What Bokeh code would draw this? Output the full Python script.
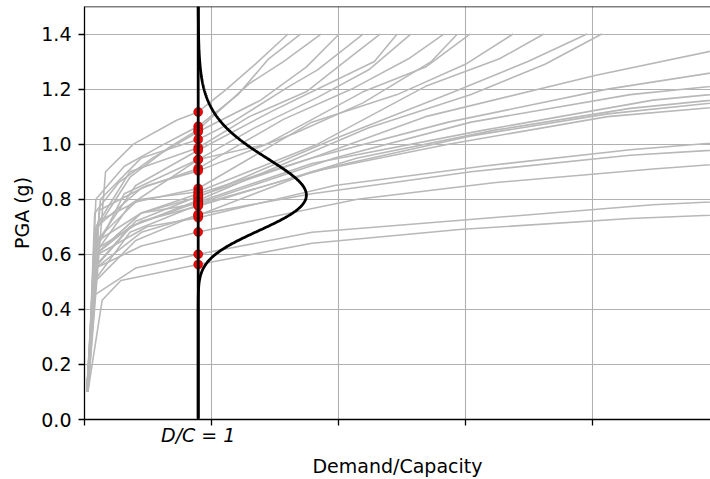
import numpy as np
from bokeh.plotting import figure
from bokeh.models import FixedTicker, LinearAxis, Span, Title
from bokeh.embed import file_html
from bokeh.resources import INLINE

# Incremental dynamic analysis (IDA) curves: demand/capacity ratio (x) vs PGA in g (y)
IDA_DC = [
    [0.03, 0.185, 0.43, 0.81, 1.0, 1.25, 1.50, 1.79],
    [0.03, 0.10, 0.35, 0.70, 1.0, 1.35, 1.62, 1.90],
    [0.02, 0.12, 0.40, 0.75, 1.0, 1.45, 1.75, 2.08],
    [0.03, 0.09, 0.30, 0.60, 1.0, 1.55, 1.95, 2.24],
    [0.02, 0.14, 0.50, 1.0, 1.30, 1.80, 2.05, 2.45],
    [0.03, 0.10, 0.40, 1.0, 1.45, 1.95, 2.35, 2.60],
    [0.02, 0.12, 0.45, 1.0, 1.65, 2.15, 2.55, 2.75],
    [0.03, 0.08, 0.35, 1.0, 1.50, 2.05, 2.50, 2.87],
    [0.02, 0.11, 0.50, 1.0, 1.75, 2.35, 2.85, 3.16],
    [0.03, 0.13, 0.55, 1.0, 1.85, 2.45, 3.05, 3.28],
    [0.02, 0.09, 0.40, 1.0, 1.60, 2.45, 3.00, 3.39],
    [0.03, 0.10, 0.45, 1.0, 2.00, 2.75, 3.35, 3.77],
    [0.02, 0.12, 0.50, 1.0, 2.05, 3.00, 3.65, 4.04],
    [0.03, 0.10, 0.50, 1.0, 2.20, 3.25, 3.90, 4.42],
    [0.02, 0.08, 0.40, 1.0, 2.50, 3.40, 4.05, 4.55],
    [0.02, 0.10, 0.50, 1.0, 2.00, 3.00, 4.50, 6.00],
    [0.03, 0.09, 0.45, 1.0, 2.00, 3.20, 4.60, 6.00],
    [0.02, 0.12, 0.50, 1.0, 2.20, 3.40, 4.80, 6.00],
    [0.03, 0.10, 0.40, 1.0, 2.00, 3.50, 5.00, 6.00],
    [0.02, 0.11, 0.50, 1.0, 2.40, 3.60, 4.80, 6.00],
    [0.03, 0.08, 0.40, 1.0, 2.20, 3.40, 4.60, 6.00],
    [0.02, 0.10, 0.50, 1.0, 2.00, 3.20, 4.60, 6.00],
    [0.03, 0.12, 0.55, 1.0, 2.20, 3.50, 4.80, 6.00],
    [0.02, 0.09, 0.45, 1.0, 2.00, 3.40, 4.80, 6.00],
    [0.03, 0.10, 0.50, 1.0, 2.40, 3.60, 5.00, 6.00],
    [0.02, 0.08, 0.45, 1.0, 2.00, 3.50, 5.00, 6.00],
    [0.03, 0.155, 0.32, 1.0, 2.00, 3.30, 4.80, 6.00],
]
IDA_PGA = [
    [0.1, 0.90, 1.00, 1.087, 1.117, 1.20, 1.29, 1.4],
    [0.1, 0.80, 0.92, 1.00, 1.065, 1.18, 1.31, 1.4],
    [0.1, 0.70, 0.88, 0.99, 1.053, 1.22, 1.30, 1.4],
    [0.1, 0.75, 0.86, 0.95, 1.045, 1.16, 1.28, 1.4],
    [0.1, 0.80, 0.95, 1.017, 1.08, 1.21, 1.27, 1.4],
    [0.1, 0.70, 0.90, 0.987, 1.10, 1.19, 1.32, 1.4],
    [0.1, 0.65, 0.85, 0.978, 1.12, 1.22, 1.30, 1.4],
    [0.1, 0.60, 0.82, 0.944, 1.06, 1.17, 1.27, 1.4],
    [0.1, 0.70, 0.84, 0.912, 1.09, 1.20, 1.31, 1.4],
    [0.1, 0.76, 0.85, 0.903, 1.04, 1.15, 1.30, 1.4],
    [0.1, 0.60, 0.78, 0.944, 1.00, 1.19, 1.28, 1.4],
    [0.1, 0.65, 0.79, 0.839, 1.08, 1.18, 1.29, 1.4],
    [0.1, 0.72, 0.80, 0.827, 1.00, 1.21, 1.31, 1.4],
    [0.1, 0.60, 0.75, 0.808, 1.02, 1.19, 1.30, 1.4],
    [0.1, 0.55, 0.70, 0.796, 1.06, 1.18, 1.29, 1.4],
    [0.1, 0.60, 0.75, 0.820, 0.95, 1.10, 1.25, 1.38],
    [0.1, 0.55, 0.72, 0.811, 0.95, 1.08, 1.20, 1.29],
    [0.1, 0.65, 0.75, 0.784, 0.95, 1.08, 1.18, 1.23],
    [0.1, 0.60, 0.70, 0.790, 0.93, 1.05, 1.16, 1.20],
    [0.1, 0.62, 0.72, 0.775, 0.95, 1.05, 1.13, 1.18],
    [0.1, 0.50, 0.68, 0.780, 0.92, 1.03, 1.11, 1.17],
    [0.1, 0.55, 0.68, 0.742, 0.90, 1.00, 1.10, 1.15],
    [0.1, 0.60, 0.70, 0.733, 0.85, 0.92, 0.98, 1.02],
    [0.1, 0.50, 0.65, 0.745, 0.82, 0.90, 0.96, 0.99],
    [0.1, 0.55, 0.63, 0.681, 0.80, 0.86, 0.91, 0.94],
    [0.1, 0.45, 0.55, 0.600, 0.68, 0.73, 0.78, 0.80],
    [0.1, 0.433, 0.505, 0.563, 0.64, 0.69, 0.73, 0.75],
]

# Limit state and lognormal fragility at that limit
DC_LIMIT = 1.0
FRAGILITY_MEDIAN = 0.836
FRAGILITY_BETA = 0.16

X_TICKS = [0.0, 1.117, 2.234, 3.351, 4.468]
Y_TICKS = [0.0, 0.2, 0.4, 0.6, 0.8, 1.0, 1.2, 1.4]
Y_TICK_LABELS = ["0.0", "0.2", "0.4", "0.6", "0.8", "1.0", "1.2", "1.4"]
LIMIT_LABEL = "D/C = 1"
X_LABEL = "Demand/Capacity"
Y_LABEL = "PGA (g)"

X_MAX = 5.506
Y_MAX = 1.5
PDF_SCALE = 0.315
FONT = "DejaVu Sans"
FONT_SIZE = "19px"


def pga_at_limit(dc, pga, limit):
    """PGA where an IDA curve first reaches the given D/C ratio (linear interpolation)."""
    for i in range(len(dc) - 1):
        x0, x1 = dc[i], dc[i + 1]
        if (x0 - limit) * (x1 - limit) <= 0 and x1 != x0:
            t = (limit - x0) / (x1 - x0)
            return pga[i] + t * (pga[i + 1] - pga[i])
    return np.nan


limit_pga = [pga_at_limit(d, g, DC_LIMIT) for d, g in zip(IDA_DC, IDA_PGA)]

p = figure(
    width=710, height=479,
    x_range=(0, X_MAX), y_range=(0, Y_MAX),
    output_backend="svg", toolbar_location=None,
    min_border_left=84, min_border_right=0,
    min_border_top=6, min_border_bottom=60,
)
p.outline_line_color = None
p.background_fill_color = "white"
p.border_fill_color = "white"

# grid
for g in (p.xgrid, p.ygrid):
    g.grid_line_color = "#b0b0b0"
    g.grid_line_width = 1.1


def style_axis(ax):
    ax.axis_line_color = "black"
    ax.axis_line_width = 1.3
    ax.major_tick_line_color = "black"
    ax.major_tick_line_width = 1.3
    ax.major_tick_out = 6
    ax.major_tick_in = 0
    ax.minor_tick_line_color = None
    ax.major_label_text_font = FONT
    ax.major_label_text_font_size = FONT_SIZE
    ax.major_label_text_color = "black"


# main axes: tick marks (x) and numeric labels (y)
xax = p.xaxis[0]
style_axis(xax)
xax.ticker = FixedTicker(ticks=X_TICKS)
xax.major_label_overrides = {t: "" for t in X_TICKS}
xax.major_label_text_font_size = "0px"
xax.major_label_standoff = 0

yax = p.yaxis[0]
style_axis(yax)
yax.ticker = FixedTicker(ticks=Y_TICKS)
yax.major_label_overrides = dict(zip(Y_TICKS, Y_TICK_LABELS))
yax.major_label_standoff = 7

# D/C = 1 marker label and x-axis title on a label-only axis
xlab = LinearAxis(ticker=FixedTicker(ticks=[DC_LIMIT]),
                  major_label_overrides={DC_LIMIT: LIMIT_LABEL})
xlab.axis_line_color = None
xlab.major_tick_line_color = None
xlab.minor_tick_line_color = None
xlab.major_tick_out = 0
xlab.major_tick_in = 0
xlab.major_label_text_font = FONT
xlab.major_label_text_font_size = FONT_SIZE
xlab.major_label_text_color = "black"
xlab.major_label_text_font_style = "italic"
xlab.major_label_standoff = -2
xlab.axis_label = X_LABEL
xlab.axis_label_text_font = FONT
xlab.axis_label_text_font_size = FONT_SIZE
xlab.axis_label_text_font_style = "normal"
xlab.axis_label_text_color = "black"
xlab.axis_label_standoff = 6
p.add_layout(xlab, "below")

# y-axis title
p.add_layout(Title(text=Y_LABEL, align="center",
                   text_font=FONT, text_font_size=FONT_SIZE,
                   text_font_style="normal", text_color="black", standoff=12), "left")

# top spine
p.add_layout(Span(location=Y_MAX, dimension="width", line_color="black", line_width=1.3))

# IDA curves
p.multi_line(xs=IDA_DC, ys=IDA_PGA, line_color="#b8b8b8", line_width=1.6)

# limit state line
p.add_layout(Span(location=DC_LIMIT, dimension="height", line_color="black", line_width=2.8))

# lognormal fragility density drawn sideways from the limit line
im = np.linspace(0.005, Y_MAX, 600)
pdf = np.exp(-(np.log(im / FRAGILITY_MEDIAN) ** 2) / (2 * FRAGILITY_BETA ** 2)) / (
    im * FRAGILITY_BETA * np.sqrt(2 * np.pi))
p.line(DC_LIMIT + PDF_SCALE * pdf, im, line_color="black", line_width=2.8)

# PGA at which each record reaches D/C = 1
p.scatter([DC_LIMIT] * len(limit_pga), limit_pga, size=9,
          fill_color="#ff0000", line_color="#800000", line_width=0.5)

open("out.html", "w").write(file_html(p, INLINE))
